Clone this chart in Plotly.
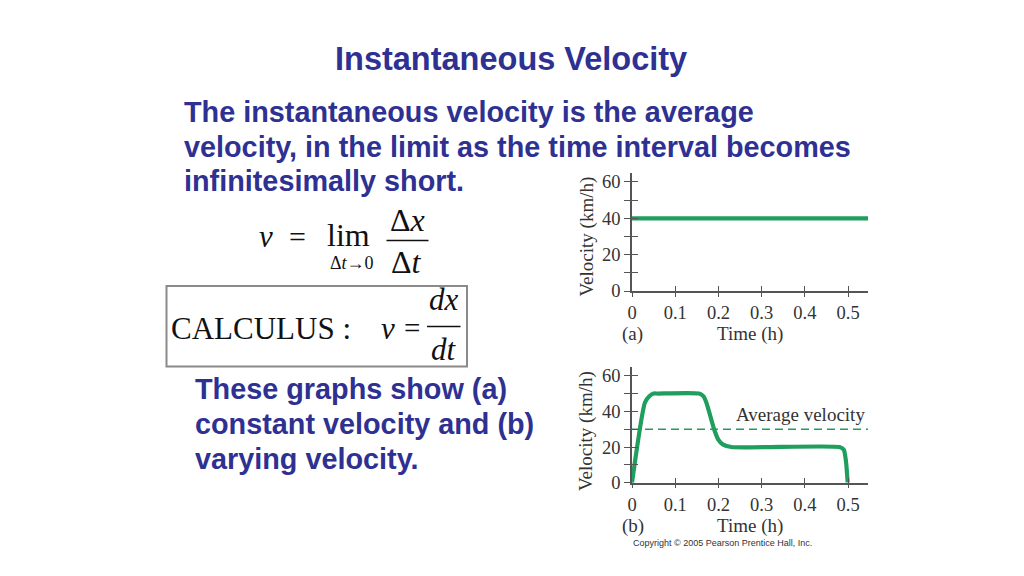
import plotly.graph_objects as go

W, H = 1024, 576

# ---------------- data ----------------
# (a) constant velocity
time_a = [0.0, 0.55]
vel_a = [40, 40]

# (b) varying velocity
time_b = [0.0, 0.03, 0.04, 0.05, 0.06, 0.155, 0.165, 0.172, 0.19, 0.2, 0.21, 0.23, 0.48, 0.49, 0.495, 0.499]
vel_b = [0, 45, 48.5, 50, 50, 50, 48.5, 45, 30, 24, 21.5, 20, 20, 18.5, 12, 0]

# average velocity of (b)
time_avg = [0.0, 0.55]
vel_avg = [30, 30]

x_ticks = [0, 0.1, 0.2, 0.3, 0.4, 0.5]
x_tick_labels = ["0", "0.1", "0.2", "0.3", "0.4", "0.5"]
y_ticks = [0, 10, 20, 30, 40, 50, 60]
y_tick_labels = ["0", "", "20", "", "40", "", "60"]

title_text = "Instantaneous Velocity"
body_lines = [
    "The instantaneous velocity is the average",
    "velocity, in the limit as the time interval becomes",
    "infinitesimally short.",
]
graph_lines = [
    "These graphs show (a)",
    "constant velocity and (b)",
    "varying velocity.",
]

# ---------------- style ----------------
BLUE = "#2e3192"
GREEN = "#1f9e5e"
AXIS = "#555555"
TXT = "#333333"
SANS = "Liberation Sans, Arial, sans-serif"
SERIF = "Liberation Serif, Times New Roman, serif"


def X(px):
    return px / W


def Y(py):
    return 1 - py / H


fig = go.Figure()

fig.add_trace(go.Scatter(x=time_a, y=vel_a, mode="lines", xaxis="x", yaxis="y",
                         line=dict(color=GREEN, width=4.2), hoverinfo="skip", showlegend=False))
fig.add_trace(go.Scatter(x=time_avg, y=vel_avg, mode="lines", xaxis="x2", yaxis="y2",
                         line=dict(color=GREEN, width=1.4, dash="8px,5px"), hoverinfo="skip",
                         showlegend=False))
fig.add_trace(go.Scatter(x=time_b, y=vel_b, mode="lines", xaxis="x2", yaxis="y2",
                         line=dict(color=GREEN, width=4.2, shape="spline", smoothing=0.6),
                         hoverinfo="skip", showlegend=False))
# invisible traces to hold the overlay (inside-tick) axes
fig.add_trace(go.Scatter(x=[None], y=[None], xaxis="x3", yaxis="y3", showlegend=False, hoverinfo="skip"))
fig.add_trace(go.Scatter(x=[None], y=[None], xaxis="x4", yaxis="y4", showlegend=False, hoverinfo="skip"))

xdom = [X(632), X(868)]
xrange_ = [0, 0.546]
ydom_a = [Y(291), Y(172.9)]
ydom_b = [Y(482.7), Y(366.8)]
yrange_ = [0, 65]

tickfont = dict(family=SERIF, size=18.5, color=TXT)


def xax(anchor, overlay=None):
    d = dict(domain=xdom, range=xrange_, anchor=anchor, tickvals=x_ticks, ticktext=x_tick_labels,
             showgrid=False, zeroline=False, ticklen=4, tickwidth=1.3, tickcolor=AXIS,
             fixedrange=True, automargin=False)
    if overlay:
        d.update(overlaying=overlay, ticks="inside", showticklabels=False, showline=False, ticklen=5)
    else:
        d.update(ticks="outside", showline=True, linecolor=AXIS, linewidth=1.5,
                 tickfont=tickfont)
    return d


def yax(anchor, dom, overlay=None):
    d = dict(domain=dom, range=yrange_, anchor=anchor, tickvals=y_ticks, ticktext=y_tick_labels,
             showgrid=False, zeroline=False, ticklen=6, tickwidth=1.3, tickcolor=AXIS,
             fixedrange=True, automargin=False)
    if overlay:
        d.update(overlaying=overlay, ticks="inside", showticklabels=False, showline=False)
    else:
        d.update(ticks="outside", showline=True, linecolor=AXIS, linewidth=1.5,
                 tickfont=tickfont)
    return d


annotations = []


def txt(text, x, y, size, color, family, xanchor="center", angle=0, bold=False):
    annotations.append(dict(text=("<b>%s</b>" % text) if bold else text,
                            x=X(x), y=Y(y), xref="paper", yref="paper",
                            xanchor=xanchor, yanchor="middle", showarrow=False,
                            textangle=angle, font=dict(family=family, size=size, color=color)))


# slide text
txt(title_text, 511, 59, 32.5, BLUE, SANS, bold=True)
for line, yy in zip(body_lines, [112, 146.5, 181]):
    txt(line, 182, yy, 28.8, BLUE, SANS, xanchor="left", bold=True)
for line, yy in zip(graph_lines, [389, 424, 459]):
    txt(line, 193, yy, 28.8, BLUE, SANS, xanchor="left", bold=True)

# formula: v = lim_{Δt→0} Δx/Δt
txt("<i>v</i>", 266, 236, 31, "#111111", SERIF)
txt("=", 297, 237, 30, "#111111", SERIF)
txt("lim", 348.5, 235, 32, "#111111", SERIF)
txt("Δ<i>t</i>→0", 351.5, 262.5, 18, "#111111", SERIF)
txt("Δ<i>x</i>", 407, 220, 32, "#111111", SERIF)
txt("Δ<i>t</i>", 406.5, 261.5, 32, "#111111", SERIF)

# calculus box
txt("CALCULUS :", 261, 328, 31, "#111111", SERIF)
txt("<i>v</i>", 387.5, 328, 31, "#111111", SERIF)
txt("=", 412, 328, 29, "#111111", SERIF)
txt("<i>dx</i>", 443.5, 299, 31, "#111111", SERIF)
txt("<i>dt</i>", 443.5, 349, 31, "#111111", SERIF)

# chart labels
for cy in (236.5, 431):
    txt("Velocity (km/h)", 586, cy, 19, TXT, SERIF, angle=-90)
txt("Time (h)", 750, 334, 19, TXT, SERIF)
txt("Time (h)", 750, 525.5, 19, TXT, SERIF)
txt("(a)", 632.5, 334, 19, TXT, SERIF)
txt("(b)", 632.5, 525.5, 19, TXT, SERIF)
txt("Average velocity", 800, 414.5, 19, TXT, SERIF)
txt("Copyright © 2005 Pearson Prentice Hall, Inc.", 722, 543, 9, TXT, SANS)

shapes = [
    # box around the calculus definition
    dict(type="rect", xref="paper", yref="paper", x0=X(166.5), x1=X(467), y0=Y(366.5), y1=Y(286),
         line=dict(color="#8a8a8a", width=2)),
    # fraction bars
    dict(type="line", xref="paper", yref="paper", x0=X(386.5), x1=X(428.5), y0=Y(240.5), y1=Y(240.5),
         line=dict(color="#111111", width=1.3)),
    dict(type="line", xref="paper", yref="paper", x0=X(427), x1=X(460.5), y0=Y(326.5), y1=Y(326.5),
         line=dict(color="#111111", width=1.3)),
]

fig.update_layout(
    width=W, height=H,
    margin=dict(l=0, r=0, t=0, b=0, autoexpand=False),
    paper_bgcolor="white", plot_bgcolor="rgba(0,0,0,0)",
    showlegend=False,
    xaxis=xax("y"),
    yaxis=yax("x", ydom_a),
    xaxis2=xax("y2"),
    yaxis2=yax("x2", ydom_b),
    xaxis3=xax("y", overlay="x"),
    yaxis3=yax("x", ydom_a, overlay="y"),
    xaxis4=xax("y2", overlay="x2"),
    yaxis4=yax("x2", ydom_b, overlay="y2"),
    annotations=annotations,
    shapes=shapes,
)

fig.write_html("out.html", config={"displayModeBar": False},
               post_script="document.body.style.margin='0';")
